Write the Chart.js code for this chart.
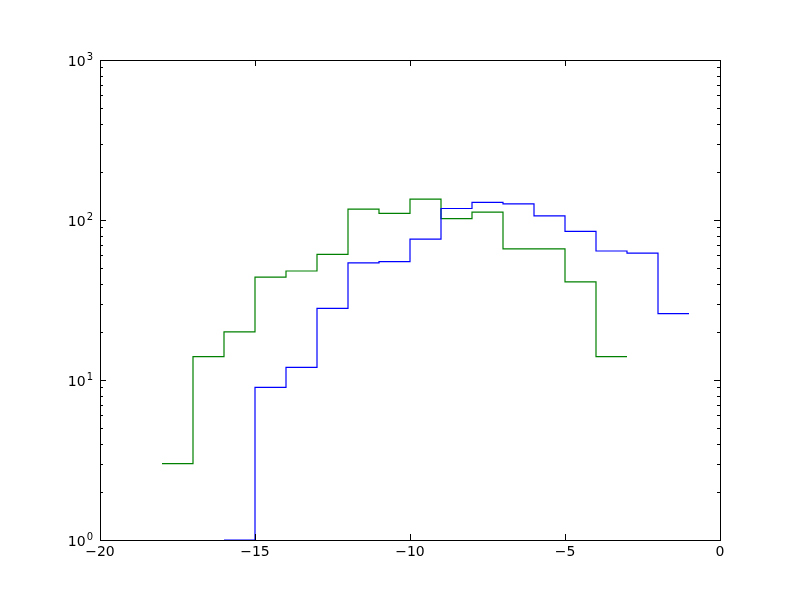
<!DOCTYPE html>
<html>
<head>
<meta charset="utf-8">
<script src="https://cdn.jsdelivr.net/npm/chart.js@4"></script>
<style>
  body { margin: 0; background: #fff; }
  canvas { display: block; }
</style>
</head>
<body>
<canvas id="myChart" width="800" height="600"></canvas>
<script>
// bin edges (left edge of each bin, width 1) and counts
const blueEdges = [-16, -15, -14, -13, -12, -11, -10, -9, -8, -7, -6, -5, -4, -3, -2, -1];
const blueCounts = [1, 9, 12, 28, 54, 55, 76, 118, 129, 126, 106, 85, 64, 62, 26];

const greenEdges = [-18, -17, -16, -15, -14, -13, -12, -11, -10, -9, -8, -7, -6, -5, -4, -3];
const greenCounts = [3, 14, 20, 44, 48, 61, 117, 110, 135, 102, 112, 66, 66, 41, 14];

const xTicks = [-20, -15, -10, -5, 0];
const yDecades = [0, 1, 2, 3];

// turn edges + counts into step points
function stepPoints(edges, counts) {
  const pts = [];
  counts.forEach((c, i) => {
    pts.push({x: edges[i], y: c});
    pts.push({x: edges[i + 1], y: c});
  });
  return pts;
}

const FONT = '"DejaVu Sans", sans-serif';

// matplotlib-like frame, inward ticks and 10^n labels
const frameTicks = {
  id: 'frameTicks',
  afterDraw(chart) {
    const ctx = chart.ctx;
    const a = chart.chartArea;
    const xs = chart.scales.x;
    const ys = chart.scales.y;
    ctx.save();
    ctx.strokeStyle = '#000';
    ctx.lineWidth = 1;

    ctx.beginPath();
    xTicks.forEach(v => {
      const px = Math.round(xs.getPixelForValue(v)) + 0.5;
      ctx.moveTo(px, a.bottom); ctx.lineTo(px, a.bottom - 6);
      ctx.moveTo(px, a.top); ctx.lineTo(px, a.top + 6);
    });
    yDecades.forEach(e => {
      for (let m = 1; m <= 9; m++) {
        const v = m * Math.pow(10, e);
        if (v > 1000) break;
        const len = m === 1 ? 6 : 3;
        const py = Math.round(ys.getPixelForValue(v)) + 0.5;
        ctx.moveTo(a.left, py); ctx.lineTo(a.left + len, py);
        ctx.moveTo(a.right, py); ctx.lineTo(a.right - len, py);
      }
    });
    ctx.stroke();

    ctx.strokeRect(Math.round(a.left) + 0.5, Math.round(a.top) + 0.5,
      Math.round(a.right - a.left), Math.round(a.bottom - a.top));

    // y labels with superscript exponent
    ctx.fillStyle = '#000';
    ctx.textBaseline = 'alphabetic';
    yDecades.forEach(e => {
      const py = ys.getPixelForValue(Math.pow(10, e));
      ctx.font = '10px ' + FONT;
      const expW = ctx.measureText(String(e)).width;
      const right = a.left - 7;
      ctx.textAlign = 'right';
      ctx.fillText(String(e), right, py);
      ctx.font = '14px ' + FONT;
      ctx.fillText('10', right - expW - 1, py + 6);
    });
    ctx.restore();
  }
};

const ctx = document.getElementById('myChart');

const myChart = new Chart(ctx, {
  type: 'line',
  data: {
    datasets: [{
      data: stepPoints(blueEdges, blueCounts),
      borderColor: '#0000ff',
      borderWidth: 1.2,
      pointRadius: 0,
      fill: false
    }, {
      data: stepPoints(greenEdges, greenCounts),
      borderColor: '#008000',
      borderWidth: 1.2,
      pointRadius: 0,
      fill: false
    }]
  },
  options: {
    responsive: false,
    animation: false,
    layout: { padding: { top: 60, right: 80, left: 0, bottom: 0 } },
    plugins: { legend: { display: false }, tooltip: { enabled: false } },
    scales: {
      x: {
        type: 'linear',
        min: -20,
        max: 0,
        grid: { display: false, drawTicks: false },
        border: { display: false },
        afterFit: (scale) => { scale.height = 60; },
        afterBuildTicks: (scale) => { scale.ticks = xTicks.map(v => ({value: v})); },
        ticks: {
          color: '#000',
          font: { family: FONT, size: 14 },
          padding: 4,
          maxRotation: 0,
          autoSkip: false,
          callback: (v) => String(v).replace('-', '\u2212')
        }
      },
      y: {
        type: 'logarithmic',
        min: 1,
        max: 1000,
        grid: { display: false, drawTicks: false },
        border: { display: false },
        ticks: { display: false },
        afterFit: (scale) => { scale.width = 100; }
      }
    }
  },
  plugins: [frameTicks]
});
</script>
</body>
</html>
